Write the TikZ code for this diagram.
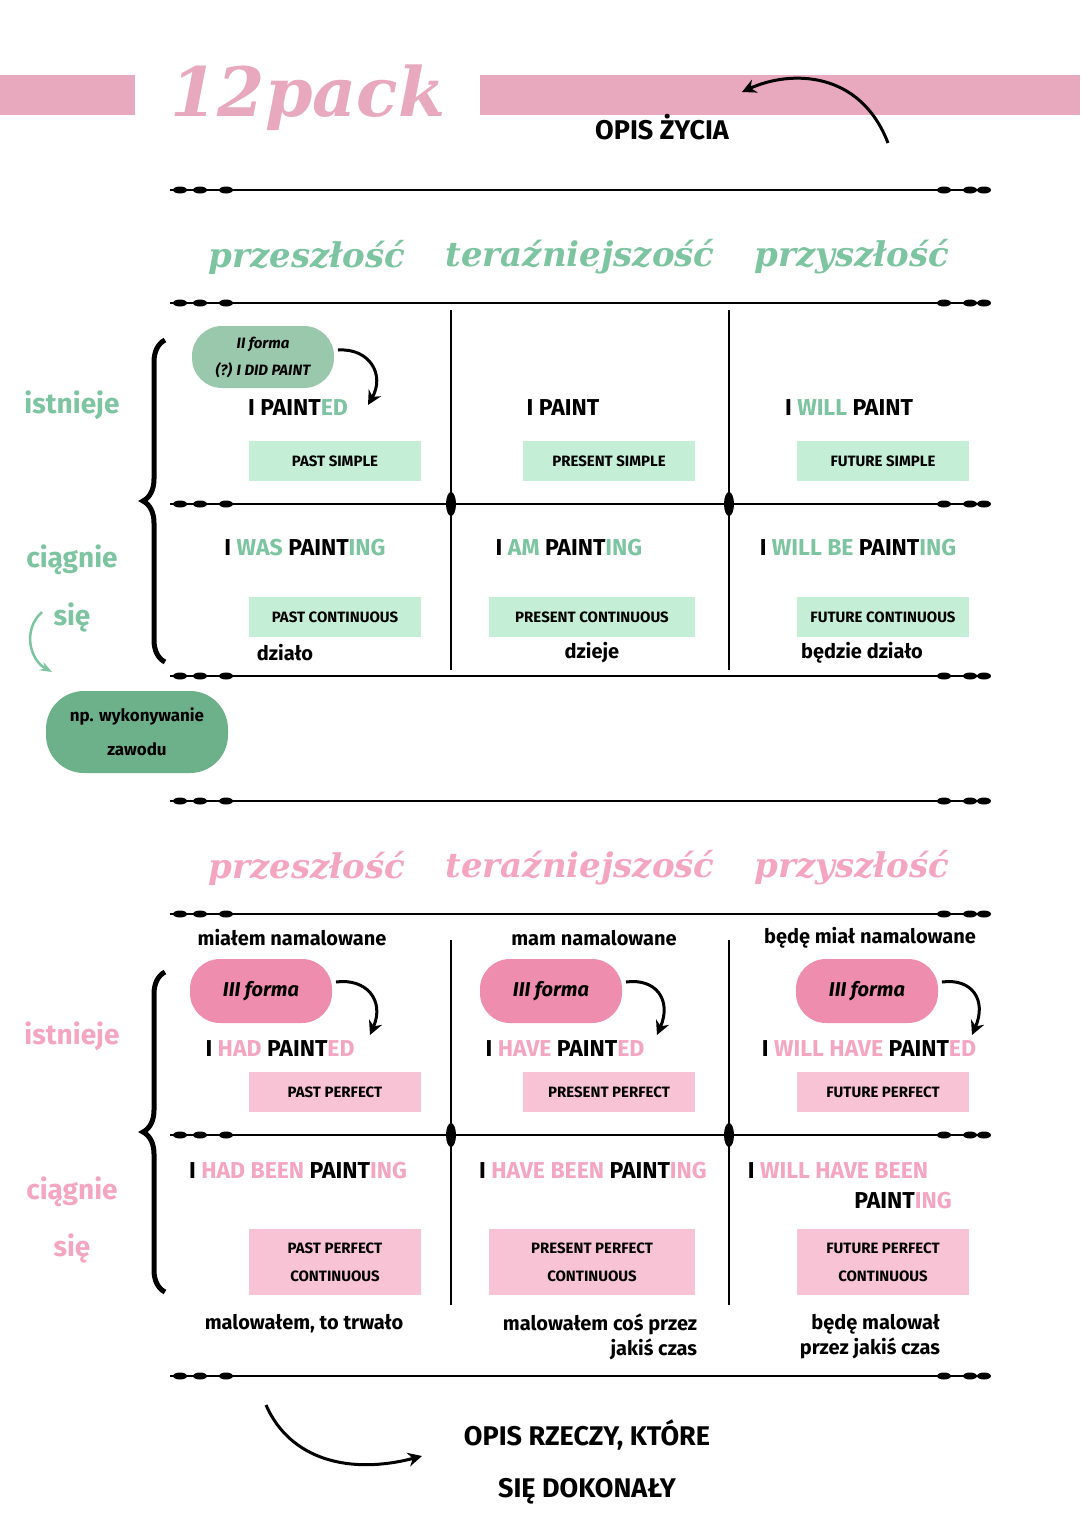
\documentclass[tikz,border=0pt]{standalone}
\usepackage{fontspec}
\setmainfont{Fira Sans}
\newfontfamily\scr{DejaVu Serif}
\usetikzlibrary{decorations.pathreplacing,arrows.meta}
\definecolor{pbar}{HTML}{E8A8BD}
\definecolor{gtx}{HTML}{7DC4A0}
\definecolor{gbox}{HTML}{C4EFD6}
\definecolor{pbox}{HTML}{F9C3D6}
\definecolor{ptx}{HTML}{F4A6C0}
\definecolor{gbub}{HTML}{6DB18A}
\definecolor{pbub}{HTML}{EE8DAE}
\tikzset{
 rule/.style={line width=2pt},
 vline/.style={line width=2pt},
 txt/.style={font=\fontsize{23}{26}\selectfont\bfseries},
 small/.style={font=\fontsize{20}{25}\selectfont\bfseries},
 lbl/.style={font=\fontsize{15}{28}\selectfont\bfseries,align=center,inner sep=0},
 gb/.style={lbl,fill=gbox,minimum height=40,minimum width=172},
 pb/.style={lbl,fill=pbox,minimum height=40,minimum width=172},
 head/.style={font=\scr\itshape\bfseries\fontsize{34}{40}\selectfont},
 side/.style={font=\fontsize{28}{32}\selectfont\bfseries},
 bub/.style={rounded corners=30,minimum height=64,minimum width=142,font=\fontsize{20}{24}\selectfont\bfseries\itshape},
 arr/.style={line width=3pt,-{Stealth[length=14pt,width=14pt]}},
}
\newcommand\myrule[1]{\draw[rule] (170,#1) -- (990,#1);
 \foreach \x in {180,200,226,944,970,984}{\fill (\x,#1) ellipse (7 and 3.5);}}
\begin{document}
\begin{tikzpicture}[x=1pt,y=-1pt]
\useasboundingbox (0,0) rectangle (1080,1527);
\fill[white] (0,0) rectangle (1080,1527);
% top bar
\fill[pbar] (0,75) rectangle (135,115);
\fill[pbar] (480,75) rectangle (1080,115);
\node[text=pbar,font=\scr\itshape\bfseries\fontsize{68}{68}\selectfont] (title) at (308,98) {12pack};
\node[font=\fontsize{27}{30}\selectfont\bfseries] (opis) at (662,127) {OPIS ŻYCIA};
\coordinate (a1) at (888,143); \coordinate (a2) at (742,92);
\draw[arr] (a1) .. controls (860,70) and (790,70) .. (a2);
% rules
\myrule{190}\myrule{303}\myrule{504}\myrule{676}\myrule{801}\myrule{914}\myrule{1135}\myrule{1376}
\foreach \x in {451,729}{
 \draw[vline] (\x,310) -- (\x,670);
 \draw[vline] (\x,940) -- (\x,1305);
 \fill (\x,504) ellipse (5 and 12);
 \fill (\x,1135) ellipse (5 and 12);}
% headings
\foreach \c/\y in {gtx/257,ptx/868}{
 \node[head,text=\c] at (307,\y) {przeszłość};
 \node[head,text=\c] at (580,\y) {teraźniejszość};
 \node[head,text=\c] at (852,\y) {przyszłość};}
% sides
\node[side,text=gtx] (is1) at (72,405) {istnieje};
\node[side,text=gtx] (ci1) at (72,560) {ciągnie};
\node[side,text=gtx] (si1) at (72,617) {się};
\draw[line width=5pt,decorate,decoration={brace,amplitude=22pt}] (165,662) -- (165,340);
\node[side,text=ptx] (is2) at (72,1036) {istnieje};
\node[side,text=ptx] (ci2) at (72,1192) {ciągnie};
\node[side,text=ptx] (si2) at (72,1248) {się};
\draw[line width=5pt,decorate,decoration={brace,amplitude=22pt}] (165,1292) -- (165,972);
\coordinate (g1) at (42,612); \coordinate (g2) at (52,672);
\draw[line width=2.5pt,gtx,-{Stealth[length=12pt]}] (g1) .. controls (22,630) and (30,660) .. (g2);
\node[fill=gbub,rounded corners=38,minimum width=182,minimum height=82,align=center,font=\fontsize{17}{34}\selectfont\bfseries] (np) at (137,732) {np. wykonywanie\\zawodu};
% top cells
\node[fill=gbub!70,rounded corners=30,minimum width=142,minimum height=62,align=center,font=\fontsize{15}{27}\selectfont\itshape\bfseries] (b0) at (263,357) {II forma\\(?) I DID PAINT};
\coordinate (c0) at (368,405);
\draw[arr] (338,350) .. controls (370,348) and (385,375) .. (c0);
\node[txt] (t1) at (298,408) {I PAINT\textcolor{gtx}{ED}};
\node[txt] (t2) at (563,408) {I PAINT};
\node[txt] (t3) at (849,408) {I \textcolor{gtx}{WILL} PAINT};
\node[gb] (x1) at (335,461) {PAST SIMPLE};
\node[gb] (x2) at (609,461) {PRESENT SIMPLE};
\node[gb] (x3) at (883,461) {FUTURE SIMPLE};
\node[txt] (t4) at (305,548) {I \textcolor{gtx}{WAS} PAINT\textcolor{gtx}{ING}};
\node[txt] (t5) at (569,548) {I \textcolor{gtx}{AM} PAINT\textcolor{gtx}{ING}};
\node[txt] (t6) at (858,548) {I \textcolor{gtx}{WILL BE} PAINT\textcolor{gtx}{ING}};
\node[gb] (x4) at (335,617) {PAST CONTINUOUS};
\node[gb,minimum width=206] (x5) at (592,617) {PRESENT CONTINUOUS};
\node[gb] (x6) at (883,617) {FUTURE CONTINUOUS};
\node[small] (d1) at (285,653) {działo};
\node[small] (d2) at (592,653) {dzieje};
\node[small] (d3) at (862,653) {będzie działo};
% bottom cells
\node[small] (m1) at (292,938) {miałem namalowane};
\node[small] (m2) at (594,938) {mam namalowane};
\node[small] (m3) at (870,938) {będę miał namalowane};
\foreach \n/\x/\ex in {p1/261/370,p2/551/657,p3/867/972}{
 \node[bub,fill=pbub] (\n) at (\x,991) {III forma};
 \coordinate (\n e) at (\ex,1035);
 \draw[arr] (\x+75,982) .. controls (\x+105,978) and (\ex+15,1000) .. (\n e);}
\node[txt] (u1) at (280,1049) {I \textcolor{ptx}{HAD} PAINT\textcolor{ptx}{ED}};
\node[txt] (u2) at (565,1049) {I \textcolor{ptx}{HAVE} PAINT\textcolor{ptx}{ED}};
\node[txt] (u3) at (869,1049) {I \textcolor{ptx}{WILL HAVE} PAINT\textcolor{ptx}{ED}};
\node[pb] (y1) at (335,1092) {PAST PERFECT};
\node[pb] (y2) at (609,1092) {PRESENT PERFECT};
\node[pb] (y3) at (883,1092) {FUTURE PERFECT};
\node[txt] (u4) at (298,1171) {I \textcolor{ptx}{HAD BEEN} PAINT\textcolor{ptx}{ING}};
\node[txt] (u5) at (593,1171) {I \textcolor{ptx}{HAVE BEEN} PAINT\textcolor{ptx}{ING}};
\node[txt] (u6) at (838,1171) {I \textcolor{ptx}{WILL HAVE BEEN}};
\node[txt] (u7) at (903,1201) {PAINT\textcolor{ptx}{ING}};
\node[pb,minimum height=66] (y4) at (335,1262) {PAST PERFECT\\CONTINUOUS};
\node[pb,minimum height=66,minimum width=206] (y5) at (592,1262) {PRESENT PERFECT\\CONTINUOUS};
\node[pb,minimum height=66] (y6) at (883,1262) {FUTURE PERFECT\\CONTINUOUS};
\node[small] (w1) at (304,1324) {malowałem, to trwało};
\node[small,align=right] (w2) at (600,1337) {malowałem coś przez\\jakiś czas};
\node[small,align=right] (w3) at (870,1337) {będę malował\\przez jakiś czas};
% bottom arrow
\coordinate (e1) at (266,1405); \coordinate (e2) at (422,1456);
\draw[arr] (e1) .. controls (290,1460) and (350,1475) .. (e2);
\node[font=\fontsize{27}{52}\selectfont\bfseries,align=center] (opis2) at (587,1462) {OPIS RZECZY, KTÓRE\\SIĘ DOKONAŁY};
\end{tikzpicture}
\end{document}
